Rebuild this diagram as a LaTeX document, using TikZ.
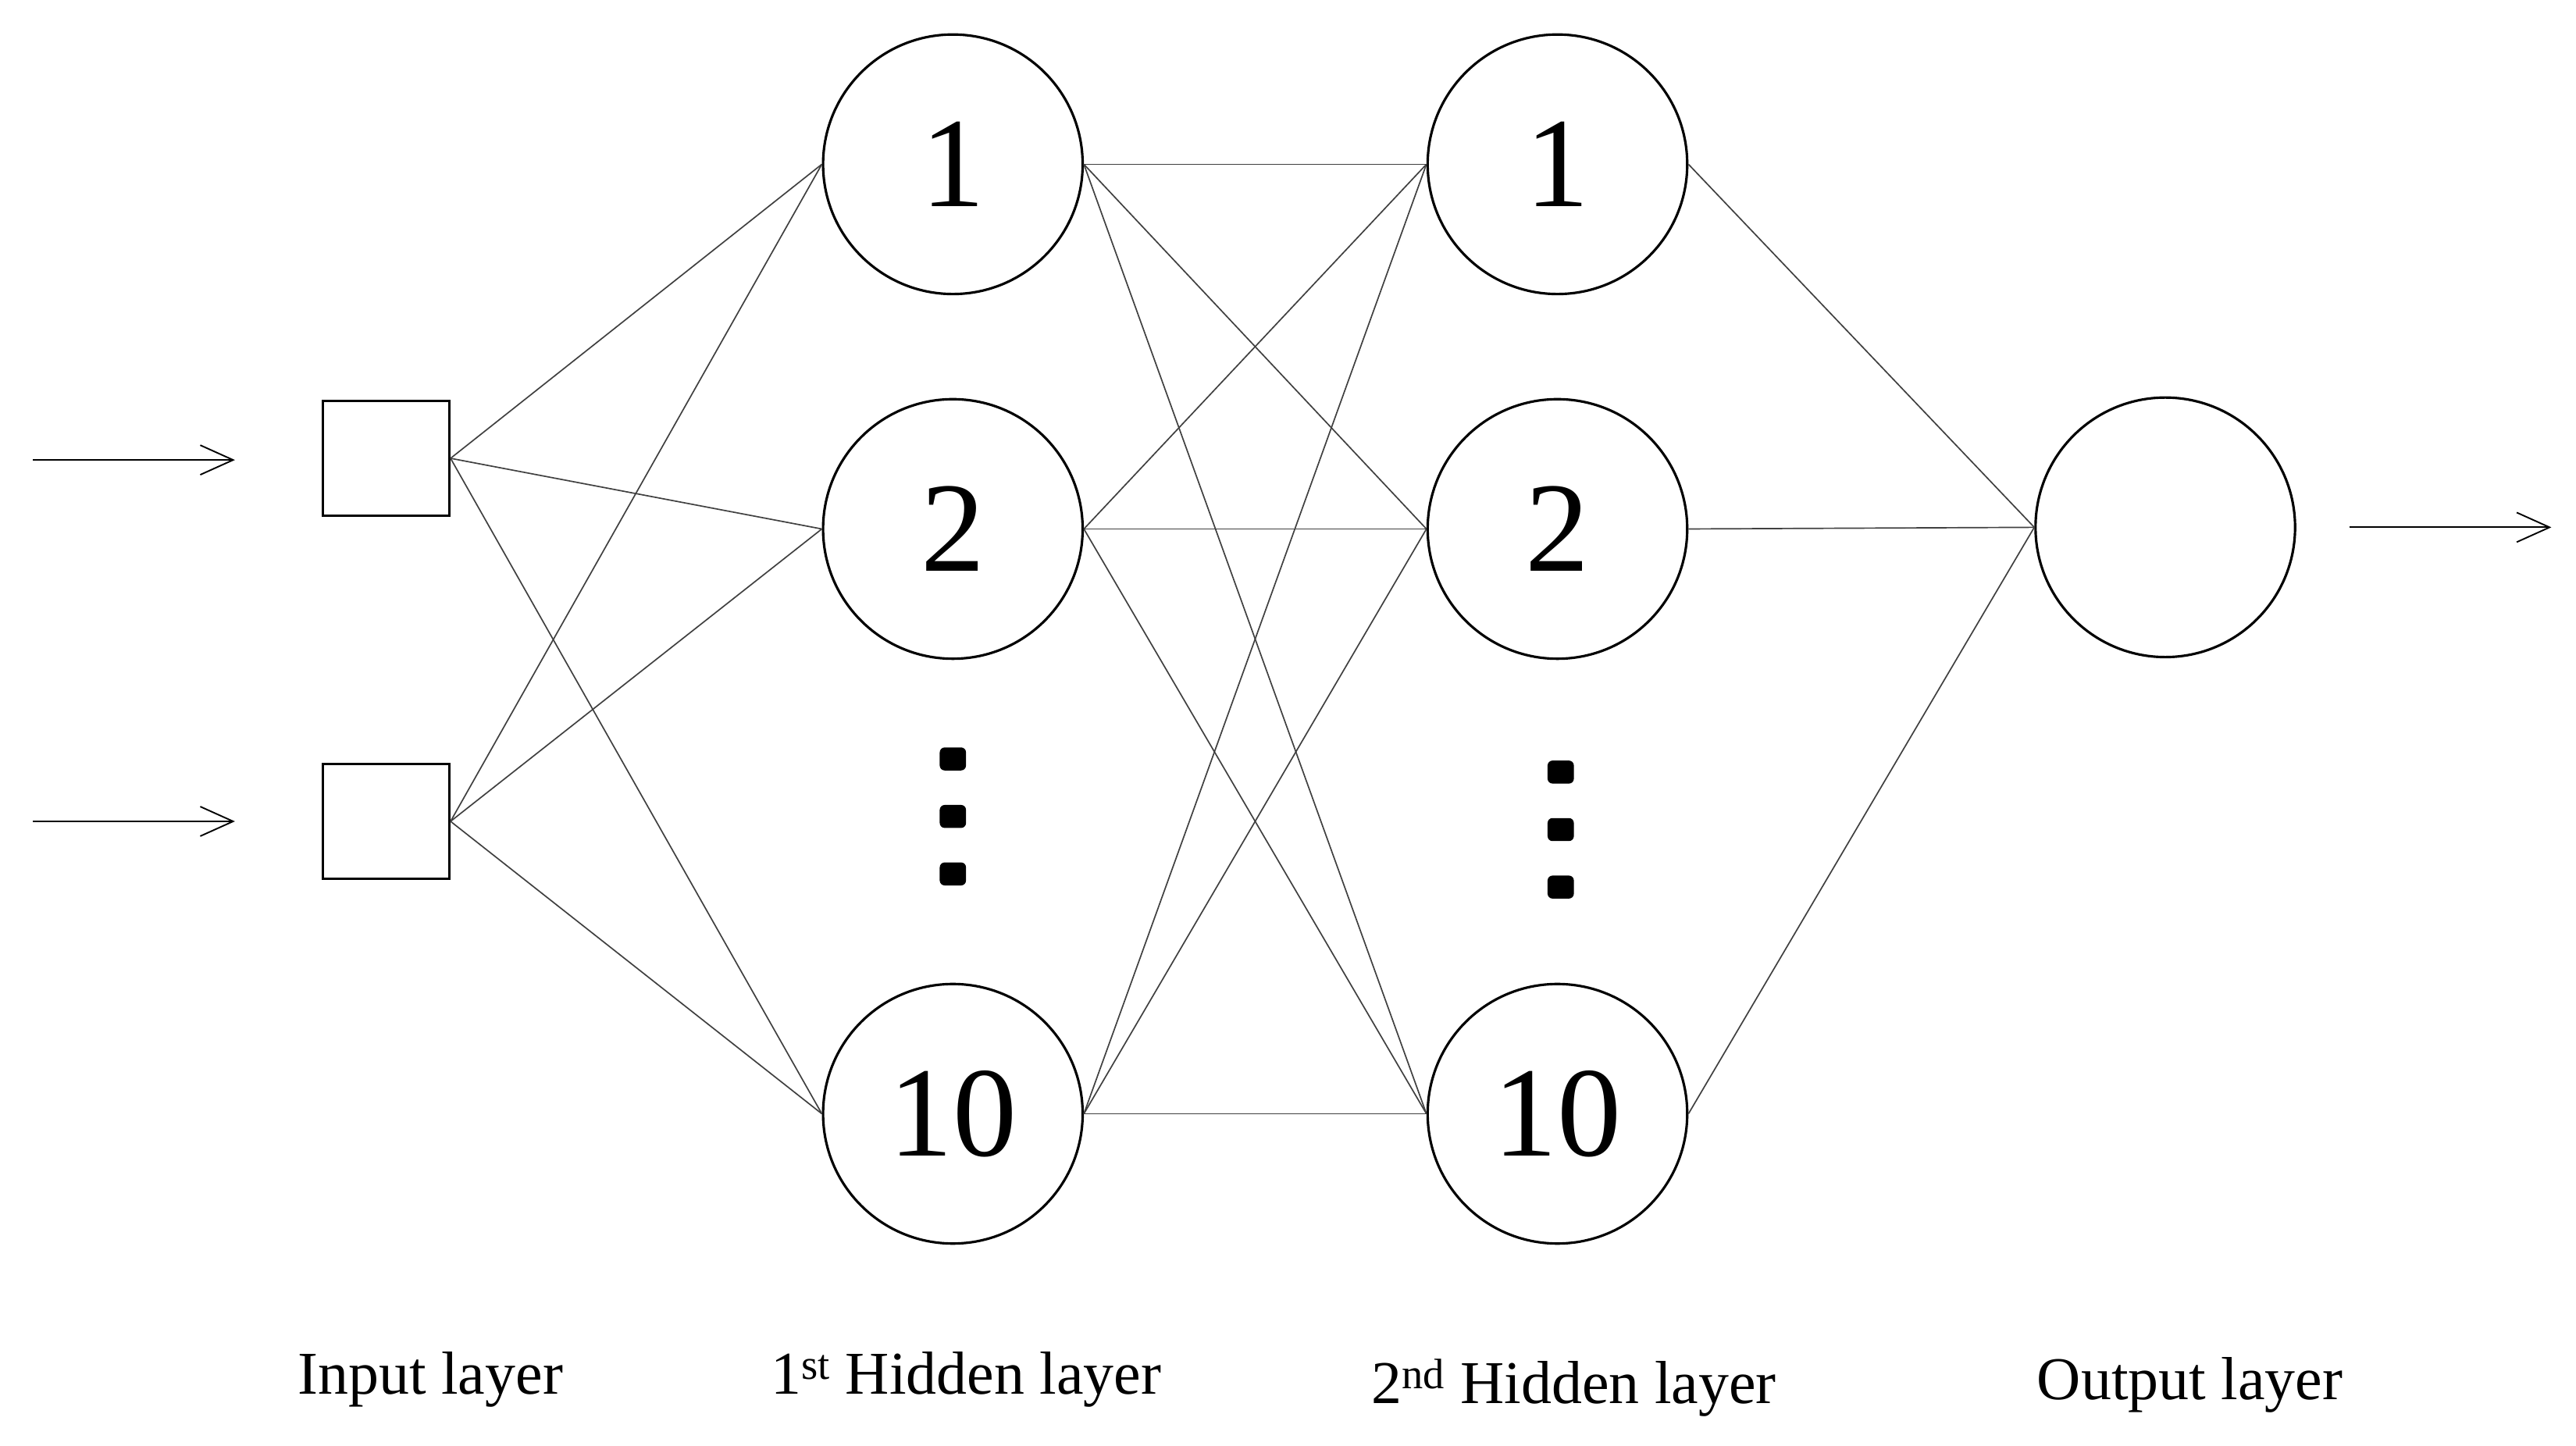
\documentclass[tikz,border=0pt]{standalone}
\usepackage{fontspec}
\setmainfont{Liberation Serif}
\usetikzlibrary{arrows.meta}
\begin{document}
\begin{tikzpicture}[x=1pt,y=-1pt,
  neuron/.style={circle,draw,line width=1.5pt,minimum size=158pt,inner sep=0pt,font=\fontsize{78}{80}\selectfont},
  inp/.style={rectangle,draw,line width=1.5pt,minimum width=77pt,minimum height=70pt},
  edge/.style={line width=0.8pt,draw=black!75},
  io/.style={line width=0.9pt,-{Straight Barb[length=20pt,width=18pt]}},
  lab/.style={font=\fontsize{37}{40}\selectfont},
  dot/.style={fill=black,rounded corners=3pt}]
\useasboundingbox (0,0) rectangle (1568,880);
\node[inp] (i1) at (235,279) {};
\node[inp] (i2) at (235,500) {};
\coordinate (a1) at (20,280); \coordinate (a2) at (20,500);
\draw[io] (a1) -- (143,280);
\draw[io] (a2) -- (143,500);
\node[neuron] (h1) at (580,100) {1};
\node[neuron] (h2) at (580,322) {2};
\node[neuron] (h10) at (580,678) {10};
\node[neuron] (g1) at (948,100) {1};
\node[neuron] (g2) at (948,322) {2};
\node[neuron] (g10) at (948,678) {10};
\node[neuron] (o) at (1318,321) {};
\coordinate (oe) at (1553,321);
\draw[io] (1430,321) -- (oe);
\foreach \y in {462,497,532} \fill[dot] (572,\y-7) rectangle (588,\y+7);
\foreach \y in {470,505,540} \fill[dot] (942,\y-7) rectangle (958,\y+7);
\foreach \i in {i1,i2} \foreach \h in {h1,h2,h10} \draw[edge] (\i.east) -- (\h.west);
\foreach \h in {h1,h2,h10} \foreach \g in {g1,g2,g10} \draw[edge] (\h.east) -- (\g.west);
\foreach \g in {g1,g2,g10} \draw[edge] (\g.east) -- (o.west);
\node[lab] (l1) at (262,840) {Input layer};
\node[lab] (l2) at (588,840) {1\textsuperscript{st} Hidden layer};
\node[lab] (l3) at (958,845) {2\textsuperscript{nd} Hidden layer};
\node[lab] (l4) at (1333,843) {Output layer};
\end{tikzpicture}
\end{document}
